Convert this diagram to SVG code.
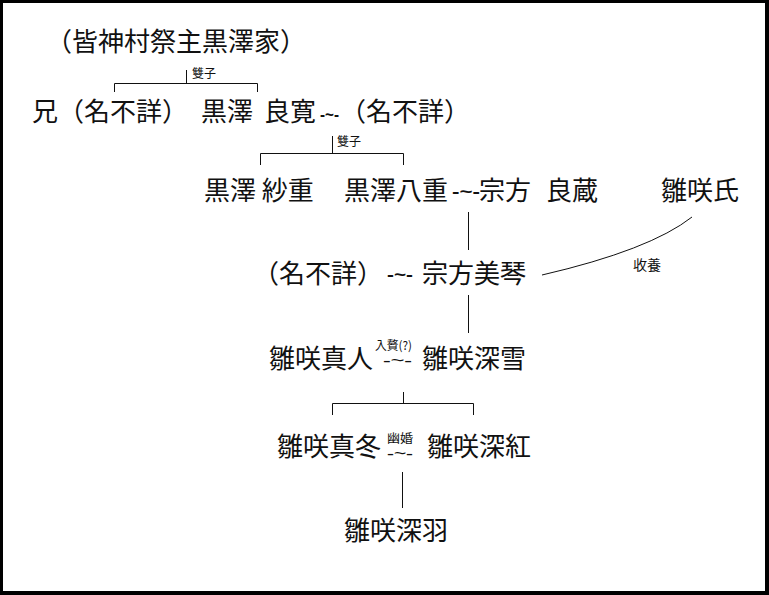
<svg xmlns="http://www.w3.org/2000/svg" width="769" height="595" viewBox="0 0 769 595">
<style>
.n{font-family:"Noto Sans CJK JP","Noto Sans CJK SC",sans-serif;font-size:26px;fill:#111}
.s{font-family:"Noto Sans CJK JP","Noto Sans CJK SC",sans-serif;font-size:12px;fill:#111}
.m{font-family:"Liberation Sans",Arial,sans-serif;font-size:16px;font-weight:bold;fill:#111}
.mt{font-family:"Liberation Sans",Arial,sans-serif;font-size:11px;font-weight:bold;fill:#111}
.c{stroke:#111;stroke-width:1;fill:none}
</style>
<rect x="0" y="0" width="769" height="595" fill="#000"/>
<rect x="3" y="3" width="762" height="588" fill="#fff"/>
<g id="connectors" class="c">
<path d="M186.5,70V83.5M114.5,92V83.5H257.5V92"/>
<path d="M332.5,136V153.5M260.5,165V153.5H403.5V165"/>
<path d="M468.5,212V250"/>
<path d="M468.5,295V333"/>
<path d="M403.5,392V403.5M332.5,415V403.5H473.5V415"/>
<path d="M402.5,472V508"/>
<path d="M542,275Q650,250 692,217"/>
</g>
<g id="title"><text class="n" x="46" y="51">（皆神村祭主黒澤家）</text></g>
<g id="twins1-label"><text class="s" x="192" y="78">雙子</text></g>
<g id="ani"><text class="n" x="32" y="121">兄（名不詳）</text></g>
<g id="kurosawa-ryokan"><text class="n" x="201" y="121">黒澤</text><text class="n" x="264" y="121">良寛</text></g>
<g id="marriage1"><text class="m" x="320" y="120" textLength="19" lengthAdjust="spacingAndGlyphs">-~-</text></g>
<g id="wife1"><text class="n" x="340" y="121">（名不詳）</text></g>
<g id="twins2-label"><text class="s" x="337" y="146">雙子</text></g>
<g id="sae"><text class="n" x="204" y="200">黒澤 紗重</text></g>
<g id="yae"><text class="n" x="344" y="200">黒澤八重</text></g>
<g id="marriage2"><text class="m" x="452" y="197" textLength="28" lengthAdjust="spacingAndGlyphs">-~-</text></g>
<g id="ryozo"><text class="n" x="479" y="200">宗方</text><text class="n" x="546" y="200">良蔵</text></g>
<g id="hinasaki-shi"><text class="n" x="661" y="200">雛咲氏</text></g>
<g id="wife2"><text class="n" x="253" y="283">（名不詳）</text></g>
<g id="marriage3"><text class="m" x="387" y="280" textLength="26" lengthAdjust="spacingAndGlyphs">-~-</text></g>
<g id="mikoto"><text class="n" x="422" y="283">宗方美琴</text></g>
<g id="adopt-label"><text class="s" x="633" y="270" style="font-size:14px">收養</text></g>
<g id="mahito"><text class="n" x="269" y="368">雛咲真人</text></g>
<g id="marriage4"><text class="s" x="375" y="350" textLength="37" lengthAdjust="spacingAndGlyphs">入贅(?)</text><text class="mt" x="383" y="364" textLength="29" lengthAdjust="spacingAndGlyphs">-~-</text></g>
<g id="miyuki"><text class="n" x="422" y="368">雛咲深雪</text></g>
<g id="mafuyu"><text class="n" x="277" y="456">雛咲真冬</text></g>
<g id="marriage5"><text class="s" x="387" y="443" textLength="26" lengthAdjust="spacingAndGlyphs">幽婚</text><text class="mt" x="387" y="457" textLength="26" lengthAdjust="spacingAndGlyphs">-~-</text></g>
<g id="miku"><text class="n" x="427" y="456">雛咲深紅</text></g>
<g id="miu"><text class="n" x="344" y="540">雛咲深羽</text></g>
</svg>
